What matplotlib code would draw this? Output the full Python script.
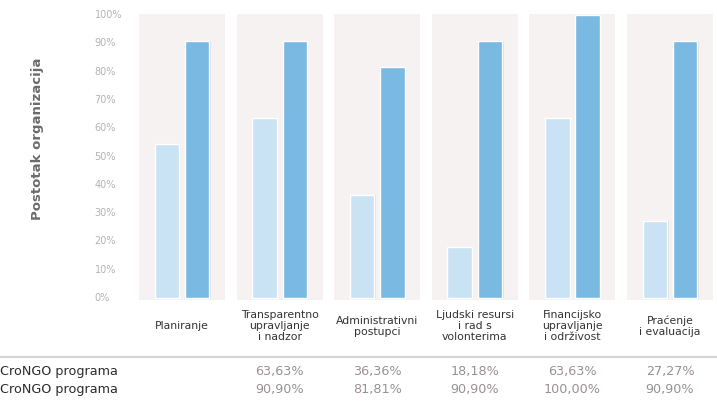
import matplotlib
matplotlib.use('Agg')
import matplotlib.pyplot as plt
from matplotlib.lines import Line2D
import matplotlib.transforms as mtransforms
import numpy as np

categories = ['Planiranje', 'Transparentno\nupravljanje\ni nadzor', 'Administrativni\npostupci',
              'Ljudski resursi\ni rad s\nvolonterima', 'Financijsko\nupravljanje\ni održivost',
              'Praćenje\ni evaluacija']
before = [54.54, 63.63, 36.36, 18.18, 63.63, 27.27]
after = [90.90, 90.90, 81.81, 90.90, 100.00, 90.90]
in_table = [False, True, True, True, True, True]
row_labels = ['CroNGO programa', 'CroNGO programa']
yticks = list(range(0, 101, 10))

W, H = 717, 403
fig = plt.figure(figsize=(W / 100, H / 100), dpi=100)

def fx(px):
    return px / W

def fy(py):
    return 1 - py / H

# axes box in pixels: left 139, right 713, top 14, bottom 300
ax = fig.add_axes([fx(139), fy(300), fx(713 - 139), (300 - 14) / H])
x = np.arange(len(categories))
ax.set_xlim(-0.44, len(categories) - 0.56)
ax.set_ylim(-1.06, 100)

# gray panels behind each group
ax.bar(x, 101.06, bottom=-1.06, width=0.88, color='#f5f2f1', zorder=0)

bw = 0.25
ax.bar(x - 0.155 + 0.015, before, bottom=-0.4, width=bw, color='#dedede', zorder=1)
ax.bar(x + 0.155 + 0.015, after, bottom=-0.4, width=bw, color='#dedede', zorder=1)
ax.bar(x - 0.155, before, bottom=-0.4, width=bw, color='#c9e2f4', edgecolor='white', linewidth=1.0, zorder=2)
ax.bar(x + 0.155, after, bottom=-0.4, width=bw, color='#79b9e2', edgecolor='white', linewidth=1.0, zorder=2)

for s in ax.spines.values():
    s.set_visible(False)

ax.set_yticks(yticks, [f'{t}%' for t in yticks])
ax.tick_params(axis='y', length=0, pad=32, labelsize=7.0, labelcolor='#b3b3b3')
for lbl in ax.get_yticklabels():
    lbl.set_ha('left')

ax.set_xticks(x, categories)
ax.tick_params(axis='x', length=0, pad=19, labelsize=7.8, labelcolor='#333333')
for lbl in ax.get_xticklabels():
    lbl.set_va('center')
    lbl.set_linespacing(1.12)

fig.text(fx(38), fy(139), 'Postotak organizacija', rotation=90, ha='center', va='center',
         fontsize=9.5, fontweight='bold', color='#6b6b6b')

# table under the chart
fig.add_artist(Line2D([0, 1], [fy(357), fy(357)], transform=fig.transFigure, color='#d4d4d4', lw=1.5))

trans = mtransforms.blended_transform_factory(ax.transData, fig.transFigure)
for r, (vals, ypx) in enumerate([(before, 371), (after, 389)]):
    fig.text(fx(0), fy(ypx), row_labels[r], ha='left', va='center', fontsize=9.2, color='#2b2b2b')
    for i, v in enumerate(vals):
        if not in_table[i]:
            continue
        ax.text(i, fy(ypx), f'{v:.2f}'.replace('.', ',') + '%', transform=trans,
                ha='center', va='center', fontsize=9.2, color='#9a8f94', clip_on=False)

fig.savefig('out.png', dpi=100)
